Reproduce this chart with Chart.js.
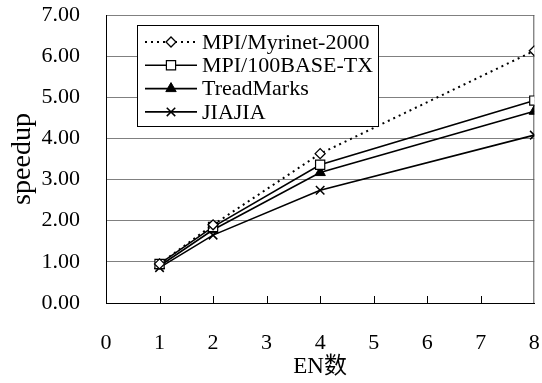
<!DOCTYPE html>
<html>
<head>
<meta charset="utf-8">
<script src="https://cdn.jsdelivr.net/npm/chart.js@4"></script>
<style>
  html, body { margin: 0; padding: 0; background: #fff; overflow: hidden; }
</style>
</head>
<body>
<canvas id="speedChart" width="542" height="383"></canvas>
<script>
// datos
const enCounts = [1, 2, 4, 8];
const myrinet = [0.95, 1.90, 3.63, 6.13];
const base100 = [0.95, 1.85, 3.36, 4.92];
const treadMarks = [0.90, 1.78, 3.17, 4.66];
const jiajia = [0.86, 1.65, 2.74, 4.08];
const seriesNames = ["MPI/Myrinet-2000", "MPI/100BASE-TX", "TreadMarks", "JIAJIA"];
const xTicks = [0, 1, 2, 3, 4, 5, 6, 7, 8];

const serif = '"Times New Roman", "Liberation Serif", "Noto Sans CJK SC", serif';

function toPoints(vals) {
  return enCounts.map((x, i) => ({ x: x, y: vals[i] }));
}

const chartData = {
  datasets: [
    {
      label: seriesNames[0], data: toPoints(myrinet),
      borderColor: "#000", borderWidth: 2, borderDash: [2, 4],
      pointStyle: "rectRot", pointRadius: 5, pointBackgroundColor: "#fff",
      pointBorderColor: "#000", pointBorderWidth: 1.3,
    },
    {
      label: seriesNames[1], data: toPoints(base100),
      borderColor: "#000", borderWidth: 1.6,
      pointStyle: "rect", pointRadius: 6.5, pointBackgroundColor: "#fff",
      pointBorderColor: "#000", pointBorderWidth: 1.2,
    },
    {
      label: seriesNames[2], data: toPoints(treadMarks),
      borderColor: "#000", borderWidth: 1.6,
      pointStyle: "triangle", pointRadius: 6, pointBackgroundColor: "#000",
      pointBorderColor: "#000", pointBorderWidth: 1,
    },
    {
      label: seriesNames[3], data: toPoints(jiajia),
      borderColor: "#000", borderWidth: 1.6,
      pointStyle: "crossRot", pointRadius: 6, pointBackgroundColor: "#000",
      pointBorderColor: "#000", pointBorderWidth: 1.5,
    },
  ],
};

/* marcas del eje x hacia adentro, borde derecho y leyenda en recuadro */
const framePlugin = {
  id: "frame",
  beforeDatasetsDraw(chart) {
    const { ctx, chartArea: a, scales } = chart;
    ctx.save();
    ctx.strokeStyle = "#555";
    ctx.lineWidth = 1;
    ctx.beginPath();
    ctx.moveTo(a.right - 0.5, a.top);
    ctx.lineTo(a.right - 0.5, a.bottom);
    ctx.stroke();
    ctx.strokeStyle = "#000";
    ctx.beginPath();
    xTicks.forEach(v => {
      if (v === 0 || v === 8) return;
      const px = Math.round(scales.x.getPixelForValue(v)) + 0.5;
      ctx.moveTo(px, a.bottom);
      ctx.lineTo(px, a.bottom - 7);
    });
    ctx.stroke();
    ctx.restore();
  },
  afterDraw(chart) {
    const ctx = chart.ctx;
    const box = { left: 137, top: 25, right: 378, bottom: 126 };
    ctx.save();
    ctx.fillStyle = "#fff";
    ctx.fillRect(box.left, box.top, box.right - box.left, box.bottom - box.top);
    ctx.strokeStyle = "#000";
    ctx.lineWidth = 1;
    ctx.strokeRect(box.left + 0.5, box.top + 0.5, box.right - box.left, box.bottom - box.top);
    chart.data.datasets.forEach((ds, i) => {
      const y = 42 + i * 23.3;
      ctx.strokeStyle = "#000";
      ctx.lineWidth = ds.borderWidth;
      ctx.setLineDash(ds.borderDash || []);
      ctx.beginPath();
      ctx.moveTo(145, y);
      ctx.lineTo(197, y);
      ctx.stroke();
      ctx.setLineDash([]);
      ctx.fillStyle = ds.pointBackgroundColor;
      ctx.strokeStyle = ds.pointBorderColor;
      ctx.lineWidth = ds.pointBorderWidth;
      Chart.helpers.drawPoint(ctx, {
        pointStyle: ds.pointStyle, radius: ds.pointRadius, rotation: 0,
        borderWidth: ds.pointBorderWidth,
      }, 171, y);
      ctx.fillStyle = "#000";
      ctx.font = "22px " + serif;
      ctx.textBaseline = "middle";
      ctx.textAlign = "left";
      ctx.fillText(ds.label, 202, y + 1);
    });
    ctx.restore();
  },
};

const ctx = document.getElementById("speedChart").getContext("2d");

new Chart(ctx, {
  type: "line",
  data: chartData,
  plugins: [framePlugin],
  options: {
    responsive: false,
    animation: false,
    devicePixelRatio: 1,
    layout: { padding: { top: 15, right: 5, left: 0, bottom: 0 } },
    plugins: {
      legend: { display: false },
      tooltip: { enabled: false },
    },
    elements: { line: { tension: 0 } },
    scales: {
      x: {
        type: "linear",
        min: 0, max: 8,
        afterBuildTicks: (s) => { s.ticks = xTicks.map(v => ({ value: v })); },
        afterFit: (s) => { s.height = 80; s.paddingLeft = 0; s.paddingRight = 0; },
        grid: { drawOnChartArea: false, drawTicks: false },
        border: { color: "#000", width: 1 },
        ticks: {
          padding: 27, color: "#000",
          font: { family: serif, size: 22 },
          maxRotation: 0,
        },
        title: {
          display: true, text: "EN数", color: "#000",
          font: { family: serif, size: 23 },
          padding: { top: 0, bottom: 2 },
        },
      },
      y: {
        min: 0, max: 7,
        afterFit: (s) => { s.width = 106; s.paddingTop = 0; s.paddingBottom = 0; },
        grid: { color: "#808080", lineWidth: 1, drawTicks: false },
        border: { color: "#000", width: 1 },
        ticks: {
          stepSize: 1, padding: 26, color: "#000",
          font: { family: serif, size: 22 },
          callback: (v) => Number(v).toFixed(2),
        },
        title: {
          display: true, text: "speedup", color: "#000",
          font: { family: serif, size: 28 },
          padding: { top: 6, bottom: 0 },
        },
      },
    },
  },
});
</script>
</body>
</html>
